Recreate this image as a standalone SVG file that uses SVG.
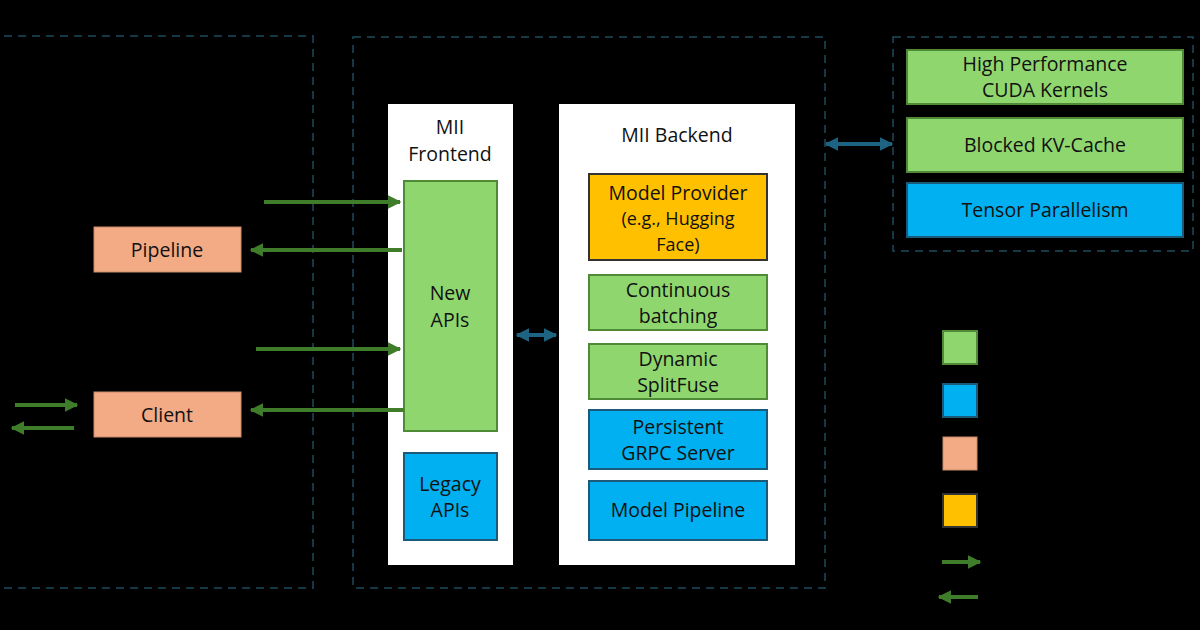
<svg xmlns="http://www.w3.org/2000/svg" width="1200" height="630" viewBox="0 0 1200 630">
<defs>
<marker id="ag" viewBox="0 0 10 10" refX="9" refY="5" markerWidth="3.4" markerHeight="3.4" orient="auto-start-reverse"><path d="M0,0 L10,5 L0,10 z" fill="#3f7d2a"/></marker>
<marker id="ab" viewBox="0 0 10 10" refX="9" refY="5" markerWidth="3.4" markerHeight="3.4" orient="auto-start-reverse"><path d="M0,0 L10,5 L0,10 z" fill="#1f6383"/></marker>
</defs>
<style>
text{font-family:"Open Sans","Liberation Sans",sans-serif;font-size:19.5px;fill:#111;text-anchor:middle}
.sm{font-size:18px}
.dash{fill:none;stroke:#1d4b5c;stroke-width:1.5;stroke-dasharray:8 6}
.panel{fill:#ffffff}
.g{fill:#90d66f;stroke:#4f8a37;stroke-width:2}
.b{fill:#00b0f0;stroke:#1c5a7a;stroke-width:2}
.o{fill:#ffc000;stroke:#333;stroke-width:2}
.s{fill:#f3ab86;stroke:#c98a6a;stroke-width:1}
.ga{stroke:#3f7d2a;stroke-width:4;fill:none;marker-end:url(#ag)}
.ba{stroke:#1f6383;stroke-width:4;fill:none;marker-end:url(#ab);marker-start:url(#ab)}
</style>
<rect width="1200" height="630" fill="#000"/>
<g id="regions">
<rect class="dash" x="-10" y="36" width="323" height="552"/>
<rect class="dash" x="353" y="37" width="472" height="551"/>
<rect class="dash" x="893" y="37" width="300" height="214"/>
</g>
<g id="frontend">
<rect class="panel" x="388" y="104" width="125" height="461"/>
<text x="450" y="134">MII</text>
<text x="450" y="161">Frontend</text>
</g>
<g id="backend">
<rect class="panel" x="559" y="104" width="236" height="461"/>
<text x="677" y="142">MII Backend</text>
</g>
<g id="new-apis"><rect class="g" x="404" y="181" width="93" height="250"/><text x="450" y="300">New</text><text x="450" y="327">APIs</text></g>
<g id="legacy-apis"><rect class="b" x="404" y="453" width="93" height="87"/><text x="450" y="491">Legacy</text><text x="450" y="517">APIs</text></g>
<g id="model-provider"><rect class="o" x="589" y="174" width="178" height="86"/><text x="678" y="200">Model Provider</text><text class="sm" x="678" y="225">(e.g., Hugging</text><text class="sm" x="678" y="251">Face)</text></g>
<g id="continuous-batching"><rect class="g" x="589" y="275" width="178" height="55"/><text x="678" y="297">Continuous</text><text x="678" y="323">batching</text></g>
<g id="dynamic-splitfuse"><rect class="g" x="589" y="344" width="178" height="55"/><text x="678" y="366">Dynamic</text><text x="678" y="392">SplitFuse</text></g>
<g id="grpc-server"><rect class="b" x="589" y="410" width="178" height="59"/><text x="678" y="434">Persistent</text><text x="678" y="460">GRPC Server</text></g>
<g id="model-pipeline"><rect class="b" x="589" y="481" width="178" height="59"/><text x="678" y="517">Model Pipeline</text></g>
<g id="cuda-kernels"><rect class="g" x="907" y="50" width="276" height="54"/><text x="1045" y="71">High Performance</text><text x="1045" y="97">CUDA Kernels</text></g>
<g id="kv-cache"><rect class="g" x="907" y="118" width="276" height="54"/><text x="1045" y="152">Blocked KV-Cache</text></g>
<g id="tensor-parallelism"><rect class="b" x="907" y="183" width="276" height="54"/><text x="1045" y="217">Tensor Parallelism</text></g>
<g id="pipeline"><rect class="s" x="94" y="227" width="147" height="45"/><text x="167" y="257">Pipeline</text></g>
<g id="client"><rect class="s" x="94" y="392" width="147" height="45"/><text x="167" y="422">Client</text></g>
<g id="legend">
<rect class="g" x="943" y="331" width="34" height="33" stroke="none"/>
<rect class="b" x="943" y="384" width="34" height="33" stroke="none"/>
<rect class="s" x="943" y="437" width="34" height="33" stroke="none"/>
<rect class="o" x="943" y="494" width="34" height="33" stroke="none"/>
<line class="ga" x1="942" y1="562" x2="980" y2="562"/>
<line class="ga" x1="978" y1="597" x2="939" y2="597"/>
</g>
<g id="connectors">
<line class="ga" x1="264" y1="202" x2="400" y2="202"/>
<line class="ga" x1="402" y1="250" x2="251" y2="250"/>
<line class="ga" x1="256" y1="349" x2="400" y2="349"/>
<line class="ga" x1="404" y1="410" x2="251" y2="410"/>
<line class="ga" x1="15" y1="405" x2="77" y2="405"/>
<line class="ga" x1="74" y1="428" x2="12" y2="428"/>
<line class="ba" x1="517" y1="335" x2="556" y2="335"/>
<line class="ba" x1="826" y1="144" x2="892" y2="144"/>
</g>
</svg>
